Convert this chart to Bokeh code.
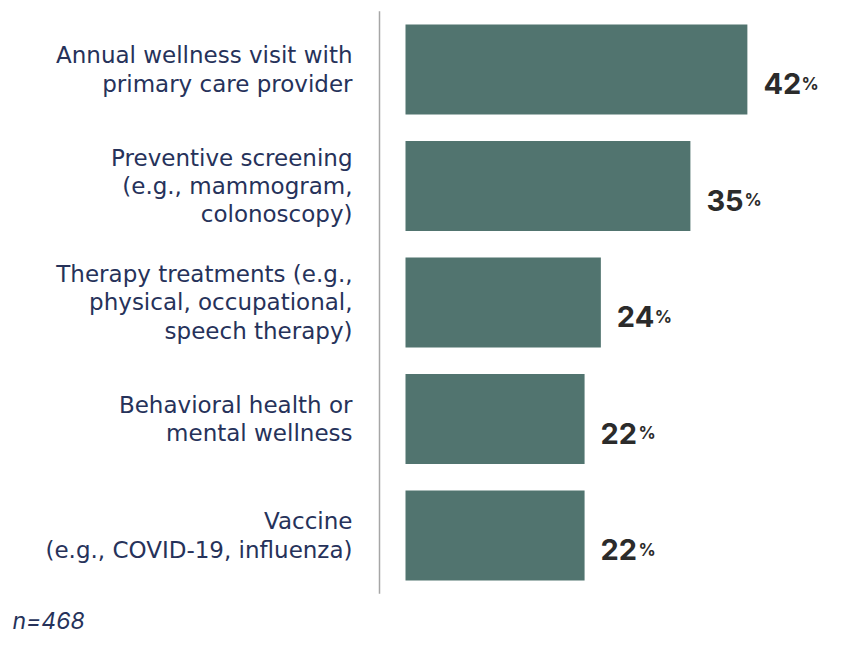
from bokeh.plotting import figure
from bokeh.models import Range1d, ColumnDataSource, Label
from bokeh.core.properties import value
from bokeh.embed import file_html
from bokeh.resources import INLINE

# ---- data ----
categories = [
    "Annual wellness visit with\nprimary care provider",
    "Preventive screening\n(e.g., mammogram,\ncolonoscopy)",
    "Therapy treatments (e.g.,\nphysical, occupational,\nspeech therapy)",
    "Behavioral health or\nmental wellness",
    "Vaccine\n(e.g., COVID-19, influenza)",
]
values = [42, 35, 24, 22, 22]
value_labels = [str(v) for v in values]
footnote = "n=468"

# ---- layout ----
W, H = 840, 656
ppu = 8.14              # pixels per percentage point
bar_left_px = 405       # bar start in figure pixels
band_px = 116.5         # vertical spacing between bars
first_center_px = 69

idx = list(range(len(values)))
src = ColumnDataSource(dict(
    y=idx, v=values, cat=categories, num=value_labels,
    pct=["%"] * len(values), zero=[0] * len(values),
))

p = figure(width=W, height=H, output_backend="svg", toolbar_location=None,
           x_axis_location=None, y_axis_location=None,
           min_border=0, min_border_left=0, min_border_right=0,
           min_border_top=0, min_border_bottom=0)
p.outline_line_color = None
p.grid.visible = False
p.background_fill_color = "white"
p.border_fill_color = "white"

p.x_range = Range1d(-bar_left_px / ppu, (W - bar_left_px) / ppu)
p.y_range = Range1d((H - first_center_px) / band_px, -first_center_px / band_px)

bar_color = "#51746f"
p.hbar(y="y", left="zero", right="v", height=90 / band_px, source=src,
       fill_color=bar_color, line_color=None)

# vertical divider
p.segment(x0=[-26 / ppu], x1=[-26 / ppu], y0=[-0.5], y1=[len(values) - 0.5],
          line_color="#a6a6a6", line_width=1.5)

# category labels
p.text(x="zero", y="y", text="cat", source=src, x_offset=-53,
       text_align="right", text_baseline="middle",
       text_font=value("DejaVu Sans"), text_font_size="23px",
       text_color="#26325a", text_line_height=1.085)

# value labels
p.text(x="v", y="y", text="num", source=src, x_offset=16, y_offset=14,
       text_align="left", text_baseline="alphabetic",
       text_font=value("Inter"), text_font_style="bold",
       text_font_size="29px", text_color="#2b2b2b")
p.text(x="v", y="y", text="pct", source=src, x_offset=54, y_offset=14,
       text_align="left", text_baseline="alphabetic",
       text_font=value("Inter"), text_font_style="bold",
       text_font_size="17px", text_color="#2b2b2b")

p.add_layout(Label(x=12, y=36, x_units="screen", y_units="screen", text=footnote,
                   text_font="Inter", text_font_style="italic",
                   text_font_size="23px", text_color="#26325a",
                   text_baseline="alphabetic"))

open("out.html", "w").write(file_html(p, INLINE))
